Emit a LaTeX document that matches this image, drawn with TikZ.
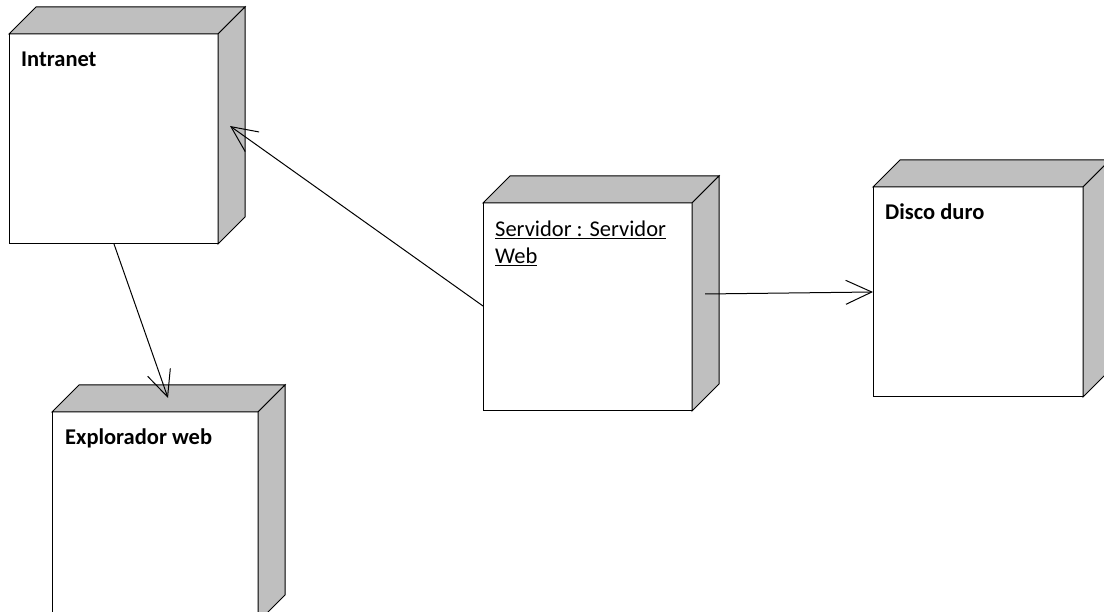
\documentclass[tikz,border=0pt]{standalone}
\usepackage{fontspec}
\setmainfont{Carlito}
\usetikzlibrary{arrows.meta,calc}
\begin{document}
\begin{tikzpicture}[x=1pt,y=-1pt,
  front/.style={draw=black, fill=white, line width=1pt, inner sep=0pt, outer sep=0pt},
  face/.style={draw=black, fill=black!25, line width=1pt, line join=miter},
  boldlbl/.style={font=\fontsize{22.5}{27}\selectfont\bfseries, inner sep=0pt},
  reglbl/.style={font=\fontsize{22.5}{27}\selectfont, inner sep=0pt, align=left},
  conn/.style={draw=black, line width=1pt, -{Straight Barb[length=26pt,width=24pt,line width=1pt]}}
]
\useasboundingbox (0,0) rectangle (1104,612);
\newcommand{\depnode}[5]{%
  \node[front, minimum width=#4pt, minimum height=#5pt, anchor=north west] (#1) at (#2,#3) {};
  \draw[face] (#1.north west) -- ++(27,-27) -- ++(#4,0) -- (#1.north east) -- cycle;
  \draw[face] (#1.north east) -- ++(27,-27) -- ++(0,#5) -- (#1.south east) -- cycle;
}
\depnode{intranet}{9}{34}{209}{210}
\depnode{explorer}{52}{412}{206}{210}
\depnode{servidor}{483}{203}{209}{208}
\depnode{disco}{873}{187}{210}{210}

\node[boldlbl, anchor=base west] (intranetlbl) at ($(intranet.north west)+(12,33)$) {Intranet};
\node[boldlbl, anchor=base west] (explorerlbl) at ($(explorer.north west)+(13,33)$) {Explorador web};
\node[boldlbl, anchor=base west] (discolbl) at ($(disco.north west)+(12,33)$) {Disco duro};
\node[reglbl, anchor=north west] (servidorlbl) at ($(servidor.north west)+(12,18)$) {\underline{Servidor : Servidor}\\\underline{Web}};

\coordinate (a1s) at ($(intranet.south west)+(105,0)$);
\coordinate (a1e) at ($(explorer.north west)+(116,-14)$);
\coordinate (a2s) at ($(servidor.north west)+(0,103)$);
\coordinate (a2e) at ($(intranet.north east)+(12,92)$);
\coordinate (a3s) at ($(servidor.north east)+(13,91)$);
\coordinate (a3e) at ($(disco.north west)+(0,105)$);
\draw[conn] (a1s) -- (a1e);
\draw[conn] (a2s) -- (a2e);
\draw[conn] (a3s) -- (a3e);
\end{tikzpicture}
\end{document}
